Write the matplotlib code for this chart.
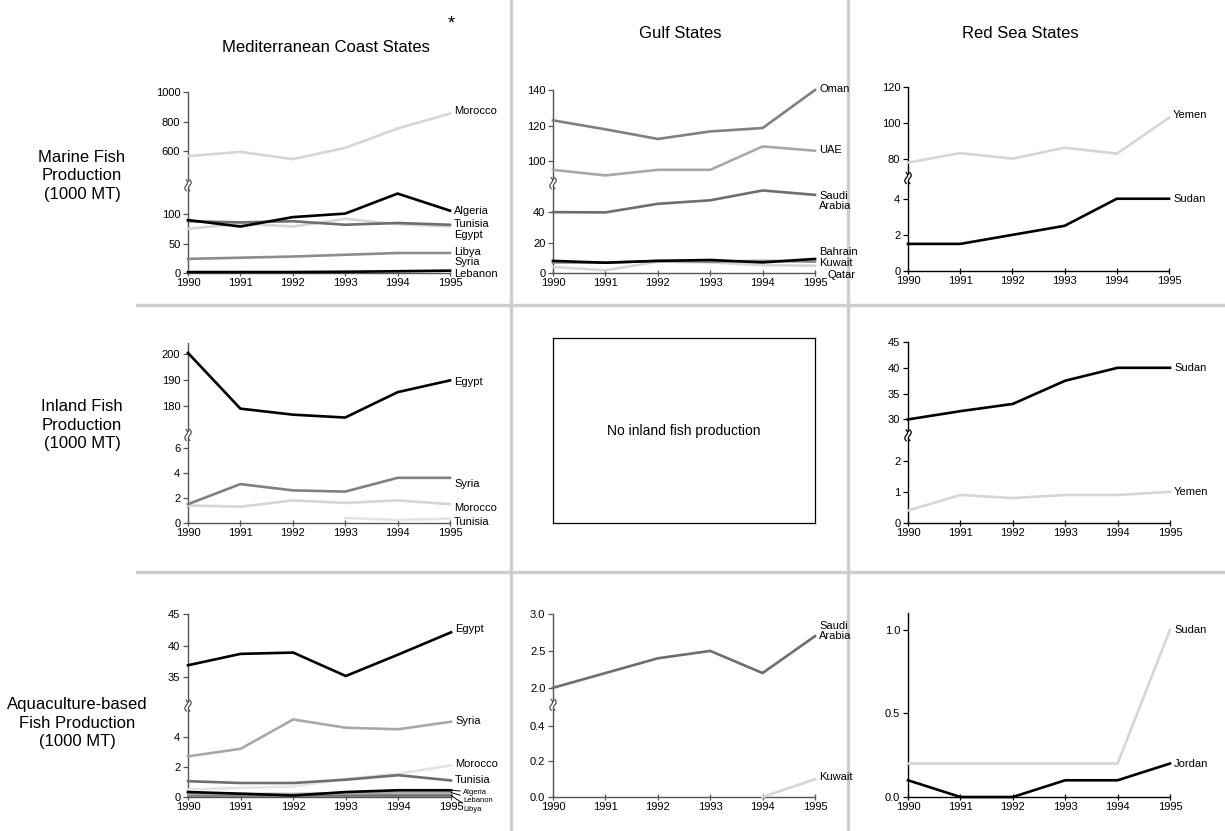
import numpy as np
import matplotlib
matplotlib.use("Agg")
import matplotlib.pyplot as plt
from matplotlib.patches import Rectangle
from matplotlib.lines import Line2D

plt.rcParams['font.family'] = ['Liberation Sans', 'DejaVu Sans']

nan = np.nan
years = [1990, 1991, 1992, 1993, 1994, 1995]

# Marine fish production (1000 MT)
med_marine_morocco = [566, 595, 546, 622, 753, 854]
med_marine_algeria = [90, 79, 95, 101, 135, 106]
med_marine_tunisia = [88, 86, 88, 82, 85, 82]
med_marine_egypt = [75, 84, 79, 92, 83, 79]
med_marine_libya = [24, 26, 28, 31, 34, 34]
med_marine_syria = [2, 2, 2, 3, 3, 3]
med_marine_lebanon = [1.5, 1.5, 1.5, 2, 3, 4]

gulf_marine_oman = [123, 118, 112.6, 116.8, 118.7, 140]
gulf_marine_uae = [95.3, 92.2, 95.3, 95.3, 108.4, 106]
gulf_marine_saudi = [40.2, 40, 45.7, 48, 54.5, 51.6]
gulf_marine_bahrain = [8, 6.8, 8, 8.6, 7, 9.3]
gulf_marine_kuwait = [7, 6.8, 8, 7.5, 8, 7.5]
gulf_marine_qatar = [4, 1.8, 7.5, 7, 5.2, 4.8]

red_marine_yemen = [77.8, 83.1, 80, 86.1, 82.8, 102.8]
red_marine_sudan = [1.5, 1.5, 2.0, 2.5, 4.0, 4.0]

# Inland fish production (1000 MT)
med_inland_egypt = [200.4, 179.1, 176.8, 175.7, 185.4, 189.9]
med_inland_syria = [1.5, 3.1, 2.6, 2.5, 3.6, 3.6]
med_inland_morocco = [1.4, 1.3, 1.8, 1.6, 1.8, 1.5]
med_inland_tunisia = [nan, nan, nan, 0.4, 0.25, 0.35]

red_inland_sudan = [30, 31.6, 33, 37.5, 40, 40]
red_inland_yemen = [0.4, 0.9, 0.8, 0.9, 0.9, 1.0]

# Aquaculture-based fish production (1000 MT)
med_aqua_egypt = [36.9, 38.7, 38.9, 35.2, 38.6, 42.1]
med_aqua_syria = [2.7, 3.2, 5.15, 4.6, 4.5, 5.0]
med_aqua_morocco = [0.5, 0.6, 0.7, 1.2, 1.55, 2.1]
med_aqua_tunisia = [1.05, 0.93, 0.93, 1.15, 1.45, 1.1]
med_aqua_algeria = [0.33, 0.22, 0.1, 0.33, 0.45, 0.45]
med_aqua_lebanon = [0.2, 0.2, 0.2, 0.25, 0.3, 0.3]
med_aqua_libya = [0.1, 0.1, 0.1, 0.1, 0.1, 0.1]

gulf_aqua_saudi = [2.0, 2.2, 2.4, 2.5, 2.2, 2.7]
gulf_aqua_kuwait = [nan, nan, nan, nan, 0.0, 0.1]

red_aqua_sudan = [0.2, 0.2, 0.2, 0.2, 0.2, 1.0]
red_aqua_jordan = [0.1, 0.0, 0.0, 0.1, 0.1, 0.2]

column_titles = ["Mediterranean Coast States", "Gulf States", "Red Sea States"]
row_titles = ["Marine Fish\nProduction\n(1000 MT)",
              "Inland Fish\nProduction\n(1000 MT)",
              "Aquaculture-based\nFish Production\n(1000 MT)"]

W, H = 1225, 831
fig = plt.figure(figsize=(W / 100, H / 100), dpi=100)

BLACK = '#000000'
DARK = '#6e6e6e'
MID = '#8c8c8c'
GRAY = '#a8a8a8'
LIGHT = '#d6d6d6'
PALE = '#e4e4e4'


def broken_scale(lo_top, hi_bot, hi_top, fa, fb):
    xs = np.array([0.0, lo_top, hi_bot, hi_top])
    ys = np.array([0.0, fa, fb, 1.0])
    s_lo = fa / lo_top
    s_hi = (1 - fb) / (hi_top - hi_bot)

    def fwd(v):
        v = np.asarray(v, dtype=float)
        out = np.interp(v, xs, ys)
        out = np.where(v < 0, v * s_lo, out)
        out = np.where(v > hi_top, 1 + (v - hi_top) * s_hi, out)
        return out

    def inv(u):
        u = np.asarray(u, dtype=float)
        out = np.interp(u, ys, xs)
        out = np.where(u < 0, u / s_lo, out)
        out = np.where(u > 1, hi_top + (u - 1) / s_hi, out)
        return out

    return fwd, inv


def make_axes(left, right, top, bottom):
    return fig.add_axes([left / W, 1 - bottom / H, (right - left) / W, (bottom - top) / H])


def draw_break(ax, rect, mid, color):
    """Cut the y spine at `mid` (axes fraction) and draw two S-shaped strokes."""
    wpx = rect[1] - rect[0]
    hpx = rect[3] - rect[2]
    half_h = 5.5 / hpx
    ax.add_patch(Rectangle((-3 / wpx, mid - half_h * 0.55), 6 / wpx, half_h * 1.1,
                           transform=ax.transAxes, fc='white', ec='none',
                           clip_on=False, zorder=4))
    t = np.linspace(-1, 1, 40)
    for off in (-1.8, 1.8):
        xs = (off + 1.4 * np.sin(np.pi * t)) / wpx
        ys = mid + t * half_h
        ax.add_line(Line2D(xs, ys, transform=ax.transAxes, color=color, lw=0.9,
                           clip_on=False, zorder=5))


def panel(rect, ymax, ticks, ticklabels, brk, series, spine_color):
    ax = make_axes(*rect)
    ax.set_xlim(1990, 1995)
    ax.set_ylim(0, ymax)
    if brk is not None:
        fwd, inv = broken_scale(*brk)
        ax.set_yscale('function', functions=(fwd, inv))
    ax.set_yticks(ticks)
    ax.set_yticklabels(ticklabels)
    ax.set_xticks(years)
    ax.set_xticklabels([str(y) for y in years])
    ax.yaxis.set_minor_locator(matplotlib.ticker.NullLocator())
    for s in ('top', 'right'):
        ax.spines[s].set_visible(False)
    for s in ('left', 'bottom'):
        ax.spines[s].set_color(spine_color)
        ax.spines[s].set_linewidth(1.0)
    ax.tick_params(axis='y', direction='out', length=3.5, width=0.9, color=spine_color,
                   labelsize=8, pad=2)
    ax.tick_params(axis='x', direction='inout', length=4.5, width=0.9, color=spine_color,
                   labelsize=8, pad=1)
    ax.patch.set_visible(False)
    for vals, color, label, dx, dy, size, leader in series:
        ax.plot(years, vals, color=color, lw=1.9, clip_on=False, solid_joinstyle='miter',
                zorder=3)
        if label:
            yend = vals[-1]
            kw = {}
            if leader:
                kw['arrowprops'] = dict(arrowstyle='-', color='black', lw=0.7,
                                        shrinkA=0, shrinkB=0)
            ax.annotate(label, xy=(1995, yend), xytext=(dx, dy),
                        textcoords='offset pixels', ha='left', va='center',
                        fontsize=size, linespacing=1.0, annotation_clip=False, **kw)
    if brk is not None:
        draw_break(ax, rect, (brk[3] + brk[4]) / 2, spine_color)
    return ax


# Row 1: marine
panel((188, 450, 92, 273), 1000, [0, 50, 100, 600, 800, 1000],
      ['0', '50', '100', '600', '800', '1000'],
      (144, 389, 1000, 0.468, 0.501),
      [(med_marine_morocco, LIGHT, 'Morocco', 4, 3, 8, False),
       (med_marine_egypt, LIGHT, 'Egypt', 4, -8, 8, False),
       (med_marine_libya, MID, 'Libya', 4, 1, 8, False),
       (med_marine_syria, LIGHT, 'Syria', 4, 9, 8, False),
       (med_marine_tunisia, DARK, 'Tunisia', 4, 1, 8, False),
       (med_marine_algeria, BLACK, 'Algeria', 4, 0, 8, False),
       (med_marine_lebanon, BLACK, 'Lebanon', 4, -3, 8, False)],
      '#555555')

panel((553, 815, 90, 273), 140, [0, 20, 40, 100, 120, 140],
      ['0', '20', '40', '100', '120', '140'],
      (57.4, 89.5, 140, 0.475, 0.507),
      [(gulf_marine_qatar, LIGHT, 'Qatar', 12, -9, 8, False),
       (gulf_marine_kuwait, MID, 'Kuwait', 4, -1, 8, False),
       (gulf_marine_bahrain, BLACK, 'Bahrain', 4, 7, 8, False),
       (gulf_marine_uae, GRAY, 'UAE', 4, 1, 8, False),
       (gulf_marine_saudi, DARK, 'Saudi\nArabia', 4, -6, 8, False),
       (gulf_marine_oman, '#808080', 'Oman', 4, 1, 8, False)],
      '#555555')

panel((908, 1169, 87, 271), 120, [0, 2, 4, 80, 100, 120],
      ['0', '2', '4', '80', '100', '120'],
      (4.98, 70.9, 120, 0.489, 0.522),
      [(red_marine_yemen, LIGHT, 'Yemen', 4, 3, 8, False),
       (red_marine_sudan, BLACK, 'Sudan', 4, 0, 8, False)],
      '#000000')

# Row 2: inland
panel((188, 450, 343, 523), 204.2, [0, 2, 4, 6, 180, 190, 200],
      ['0', '2', '4', '6', '180', '190', '200'],
      (6.77, 170.2, 204.2, 0.472, 0.506),
      [(med_inland_tunisia, PALE, 'Tunisia', 4, -3, 8, False),
       (med_inland_morocco, LIGHT, 'Morocco', 4, -4, 8, False),
       (med_inland_syria, '#808080', 'Syria', 4, -6, 8, False),
       (med_inland_egypt, BLACK, 'Egypt', 4, -2, 8, False)],
      '#555555')

panel((908, 1170, 342, 523), 45, [0, 1, 2, 30, 35, 40, 45],
      ['0', '1', '2', '30', '35', '40', '45'],
      (2.72, 27.5, 45, 0.468, 0.501),
      [(red_inland_yemen, LIGHT, 'Yemen', 4, 0, 8, False),
       (red_inland_sudan, BLACK, 'Sudan', 4, 0, 8, False)],
      '#000000')

# Placeholder for the Gulf inland cell
box = make_axes(553, 815, 338, 523)
box.set_xticks([])
box.set_yticks([])
for s in box.spines.values():
    s.set_linewidth(0.9)
    s.set_color('black')
box.text(0.5, 0.5, 'No inland fish production', ha='center', va='center',
         fontsize=10, transform=box.transAxes)

# Row 3: aquaculture
panel((188, 451, 614, 797), 45, [0, 2, 4, 35, 40, 45],
      ['0', '2', '4', '35', '40', '45'],
      (5.87, 31, 45, 0.483, 0.516),
      [(med_aqua_morocco, PALE, 'Morocco', 4, 1, 8, False),
       (med_aqua_syria, GRAY, 'Syria', 4, 1, 8, False),
       (med_aqua_tunisia, DARK, 'Tunisia', 4, 0, 8, False),
       (med_aqua_libya, DARK, 'Libya', 12, -14, 5.5, True),
       (med_aqua_lebanon, GRAY, 'Lebanon', 12, -8, 5.5, True),
       (med_aqua_algeria, BLACK, 'Algeria', 12, -2, 5.5, True),
       (med_aqua_egypt, BLACK, 'Egypt', 4, 3, 8, False)],
      '#555555')

panel((553, 815, 614, 797), 3.0, [0.0, 0.2, 0.4, 2.0, 2.5, 3.0],
      ['0.0', '0.2', '0.4', '2.0', '2.5', '3.0'],
      (0.5, 1.81, 3.0, 0.487, 0.52),
      [(gulf_aqua_kuwait, LIGHT, 'Kuwait', 4, 2, 8, False),
       (gulf_aqua_saudi, DARK, 'Saudi\nArabia', 4, 5, 8, False)],
      '#555555')

panel((908, 1170, 613, 797), 1.1, [0.0, 0.5, 1.0], ['0.0', '0.5', '1.0'], None,
      [(red_aqua_sudan, LIGHT, 'Sudan', 4, 0, 8, False),
       (red_aqua_jordan, BLACK, 'Jordan', 4, 0, 8, False)],
      '#000000')

# Grid separators between the cells
sep = dict(color='#cdcdcd', lw=2.4, transform=fig.transFigure, zorder=0)
for x in (511, 848):
    fig.add_artist(Line2D([x / W, x / W], [0, 1], **sep))
for y in (305, 572):
    fig.add_artist(Line2D([137 / W, 1], [1 - y / H, 1 - y / H], **sep))

# Column and row headings
fig.text(326 / W, 1 - 47 / H, column_titles[0], ha='center', va='center', fontsize=12)
fig.text(451 / W, 1 - 24 / H, '*', ha='center', va='center', fontsize=13)
fig.text(680 / W, 1 - 33 / H, column_titles[1], ha='center', va='center', fontsize=12)
fig.text(1020 / W, 1 - 33 / H, column_titles[2], ha='center', va='center', fontsize=12)

for (cx, cy), txt in zip([(82, 176), (82, 425), (77, 723)], row_titles):
    fig.text(cx / W, 1 - cy / H, txt, ha='center', va='center', fontsize=12,
             linespacing=1.3)

fig.savefig('out.png', dpi=100)
